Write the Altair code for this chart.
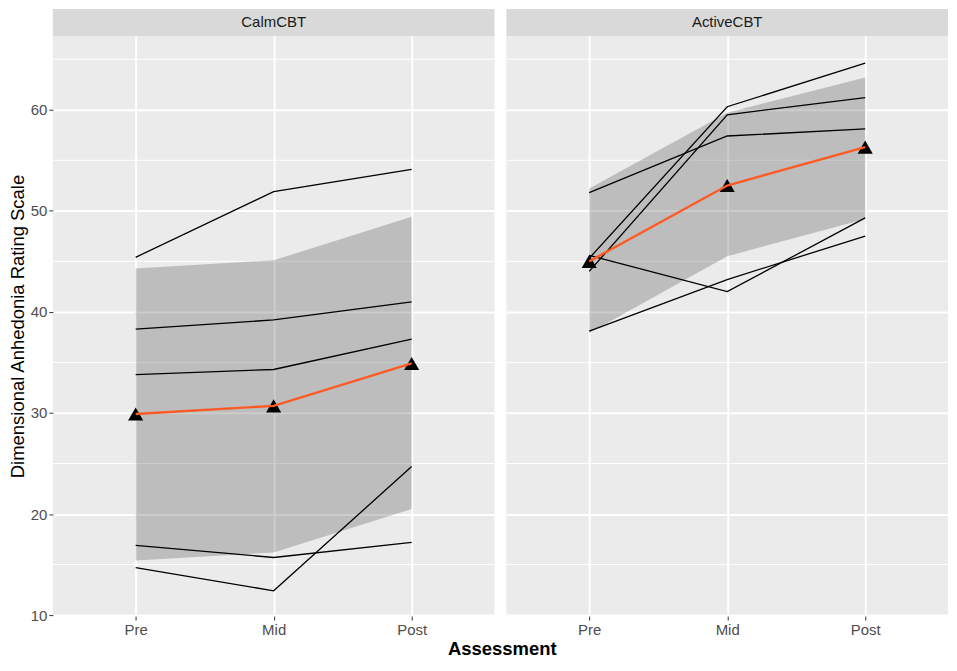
import json
import altair as alt
import pandas as pd

FONT = "Liberation Sans"

# ---------------- data ----------------
times = ["Pre", "Mid", "Post"]
groups = ["CalmCBT", "ActiveCBT"]

calm_subjects = [
    [45.4, 51.9, 54.1],
    [38.3, 39.2, 41.0],
    [33.8, 34.3, 37.3],
    [16.9, 15.7, 17.2],
    [14.7, 12.4, 24.7],
]
calm_mean = [29.9, 30.7, 34.9]
calm_lo = [15.4, 16.2, 20.5]
calm_hi = [44.3, 45.1, 49.4]

active_subjects = [
    [45.3, 60.3, 64.6],
    [44.0, 59.5, 61.2],
    [51.8, 57.4, 58.1],
    [45.6, 42.0, 49.3],
    [38.1, 43.2, 47.5],
]
active_mean = [45.0, 52.5, 56.3]
active_lo = [37.9, 45.5, 49.2]
active_hi = [52.2, 59.7, 63.2]

y_major = [10, 20, 30, 40, 50, 60]
y_minor = [15, 25, 35, 45, 55, 65]
y_domain = [9.9, 67.3]

# ---------------- styling ----------------
PANEL_W = 443
PANEL_H = 582
STRIP_H = 27
MEAN_COLOR = "#FF5A24"

x_label_expr = json.dumps(times) + "[datum.value]"


def x_enc():
    return alt.X(
        "t:Q",
        scale=alt.Scale(domain=[-0.6, 2.6], nice=False, zero=False),
        axis=alt.Axis(
            title=None,
            values=[0, 1, 2],
            labelExpr=x_label_expr,
            labelFont=FONT,
            labelFontSize=15,
            labelColor="#4D4D4D",
            labelPadding=2,
            tickColor="#333333",
            tickSize=4,
            tickWidth=1,
            domain=False,
            grid=True,
            gridColor="white",
            gridWidth=2,
        ),
    )


def y_axis(show):
    if show:
        return alt.Axis(
            title="Dimensional Anhedonia Rating Scale",
            values=y_major,
            titleFont=FONT,
            titleFontSize=18.5,
            titleFontWeight="normal",
            titleColor="black",
            titlePadding=3,
            labelFont=FONT,
            labelFontSize=15,
            labelColor="#4D4D4D",
            labelPadding=2,
            tickColor="#333333",
            tickSize=4,
            tickWidth=1,
            domain=False,
            grid=True,
            gridColor="white",
            gridWidth=2,
        )
    return alt.Axis(
        title=None,
        values=y_major,
        labels=False,
        ticks=False,
        domain=False,
        grid=True,
        gridColor="white",
        gridWidth=2,
    )


def panel(subjects, mean, lo, hi, show_y):
    rows = []
    for sid, vals in enumerate(subjects):
        for t, v in enumerate(vals):
            rows.append({"subject": sid, "t": t, "value": v})
    ind = pd.DataFrame(rows)
    summ = pd.DataFrame({"t": list(range(len(times))), "mean": mean, "lo": lo, "hi": hi})
    minor = pd.DataFrame({"v": y_minor})

    ys = alt.Scale(domain=y_domain, nice=False, zero=False)
    ya = y_axis(show_y)

    minor_grid = alt.Chart(minor).mark_rule(color="white", strokeWidth=1).encode(
        y=alt.Y("v:Q", scale=ys, axis=ya)
    )
    ribbon = alt.Chart(summ).mark_area(color="#333333", opacity=0.25).encode(
        x=x_enc(),
        y=alt.Y("lo:Q", scale=ys, axis=ya),
        y2="hi:Q",
    )
    lines = alt.Chart(ind).mark_line(color="black", strokeWidth=1.3).encode(
        x=x_enc(),
        y=alt.Y("value:Q", scale=ys, axis=ya),
        detail="subject:N",
        order="t:Q",
    )
    pts = alt.Chart(summ).mark_point(
        shape="triangle-up", filled=True, color="black", size=230, opacity=1
    ).encode(
        x=x_enc(),
        y=alt.Y("mean:Q", scale=ys, axis=ya),
    )
    mline = alt.Chart(summ).mark_line(color=MEAN_COLOR, strokeWidth=2.4).encode(
        x=x_enc(),
        y=alt.Y("mean:Q", scale=ys, axis=ya),
        order="t:Q",
    )
    return alt.layer(minor_grid, ribbon, lines, pts, mline).properties(
        width=PANEL_W,
        height=PANEL_H,
        view=alt.ViewBackground(fill="#EBEBEB", strokeWidth=0),
    )


def strip(name):
    return alt.Chart(pd.DataFrame({"g": [name]})).mark_text(
        font=FONT, fontSize=15, color="#1A1A1A"
    ).encode(text="g:N").properties(
        width=PANEL_W,
        height=STRIP_H,
        view=alt.ViewBackground(fill="#D9D9D9", strokeWidth=0),
    )


left = alt.vconcat(strip(groups[0]), panel(calm_subjects, calm_mean, calm_lo, calm_hi, True), spacing=0)
right = alt.vconcat(strip(groups[1]), panel(active_subjects, active_mean, active_lo, active_hi, False), spacing=0)

chart = alt.hconcat(left, right, spacing=10).properties(
    padding={"left": 0, "top": 0, "right": 0, "bottom": 0},
    background="white",
    title=alt.TitleParams(
        text="Assessment",
        orient="bottom",
        anchor="middle",
        font=FONT,
        fontSize=18.5,
        fontWeight="bold",
        color="black",
        offset=3,
        dx=24,
    ),
).configure_view(strokeWidth=0)

chart.save("out.html", embed_options={"renderer": "svg", "actions": False})
